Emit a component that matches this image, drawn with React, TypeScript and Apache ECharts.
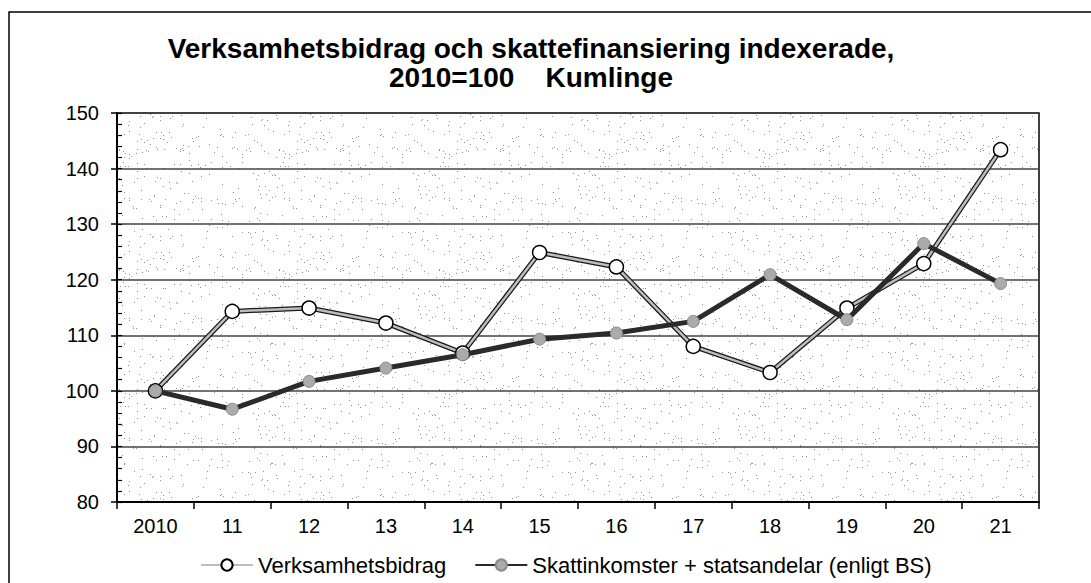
import React, { useEffect, useRef } from "react";
import * as echarts from "echarts";

const categories = ["2010", "11", "12", "13", "14", "15", "16", "17", "18", "19", "20", "21"];
const verksamhetsbidrag = [100, 114.3, 114.9, 112.2, 106.8, 124.9, 122.3, 108.0, 103.3, 114.9, 122.9, 143.4];
const skattefinansiering = [100, 96.7, 101.7, 104.1, 106.5, 109.3, 110.4, 112.5, 120.9, 112.8, 126.5, 119.3];
const seriesNames = ["Verksamhetsbidrag", "Skattinkomster + statsandelar (enligt BS)"];
const titleLines = ["Verksamhetsbidrag och skattefinansiering indexerade,", "2010=100    Kumlinge"];
const yMin = 80;
const yMax = 150;
const yStep = 10;

const FONT = "'Liberation Sans', Arial, sans-serif";

function makeStipple(): string {
  const c = document.createElement("canvas");
  const w = 160, h = 120;
  c.width = w; c.height = h;
  const ctx = c.getContext("2d");
  if (!ctx) return "";
  ctx.fillStyle = "#ffffff";
  ctx.fillRect(0, 0, w, h);
  ctx.fillStyle = "#8f8f8f";
  // deterministic hash-based dot texture (decoration only)
  for (let y = 0; y < h; y++) {
    for (let x = 0; x < w; x++) {
      let n = (x * 374761393 + y * 668265263) | 0;
      n = Math.imul(n ^ (n >>> 13), 1274126177);
      n = n ^ (n >>> 16);
      const f = (n >>> 0) / 4294967296;
      if (f < 0.012) ctx.fillRect(x, y, 1, 1);
    }
  }
  return c.toDataURL();
}

export default function App() {
  const ref = useRef<HTMLDivElement>(null);
  useEffect(() => {
    document.body.style.margin = "0";
    if (!ref.current) return;
    const chart = echarts.init(ref.current, undefined, { renderer: "svg" });
    const stipple = makeStipple();
    chart.setOption({
      animation: false,
      backgroundColor: "#ffffff",
      textStyle: { fontFamily: FONT },
      graphic: [
        {
          type: "rect",
          shape: { x: 9, y: 12, width: 1100, height: 600 },
          style: { fill: "none", stroke: "#000", lineWidth: 1.5 },
          silent: true,
        },
        {
          type: "text",
          x: 531,
          y: 48,
          style: {
            text: titleLines[0],
            font: `bold 28px ${FONT}`,
            fill: "#000",
            textAlign: "center",
            textVerticalAlign: "middle",
          },
        },
        {
          type: "text",
          x: 531,
          y: 77,
          style: {
            text: titleLines[1],
            font: `bold 28px ${FONT}`,
            fill: "#000",
            textAlign: "center",
            textVerticalAlign: "middle",
          },
        },
      ],
      grid: {
        left: 117,
        right: 52,
        top: 113,
        bottom: 81,
        show: true,
        borderColor: "#000",
        borderWidth: 1.5,
        backgroundColor: stipple
          ? { image: stipple, repeat: "repeat" }
          : "#f6f6f6",
      },
      legend: {
        data: seriesNames,
        left: 195,
        top: 549,
        itemWidth: 52,
        itemHeight: 14,
        itemGap: 28,
        textStyle: { fontSize: 22, color: "#000", fontFamily: FONT },
      },
      xAxis: {
        type: "category",
        data: categories,
        boundaryGap: true,
        axisLine: { lineStyle: { color: "#000", width: 2 } },
        axisTick: { show: true, length: 7, lineStyle: { color: "#000", width: 1.5 } },
        axisLabel: { color: "#000", fontSize: 20, margin: 14, fontFamily: FONT },
        splitLine: { show: false },
      },
      yAxis: [
        {
          type: "value",
          min: yMin,
          max: yMax,
          interval: yStep,
          axisLine: { show: true, lineStyle: { color: "#000", width: 2 } },
          axisTick: { show: true, length: 6, lineStyle: { color: "#000", width: 1.5 } },
          axisLabel: { color: "#000", fontSize: 20, margin: 18, fontFamily: FONT },
          splitLine: { show: true, lineStyle: { color: "#444", width: 1.5 } },
        },
        {
          type: "value",
          position: "left",
          min: yMin,
          max: yMax,
          interval: 2,
          axisLine: { show: false },
          axisTick: { show: true, inside: true, length: 5, lineStyle: { color: "#000", width: 1.2 } },
          axisLabel: { show: false },
          splitLine: { show: false },
        },
      ],
      series: [
        {
          name: "vb-outline",
          type: "line",
          data: verksamhetsbidrag,
          showSymbol: false,
          lineStyle: { color: "#1a1a1a", width: 5 },
          z: 2,
          silent: true,
        },
        {
          name: seriesNames[0],
          type: "line",
          data: verksamhetsbidrag,
          symbol: "circle",
          symbolSize: 14,
          lineStyle: { color: "#bdbdbd", width: 2.5 },
          itemStyle: { color: "#ffffff", borderColor: "#000", borderWidth: 1.5 },
          z: 3,
        },
        {
          name: seriesNames[1],
          type: "line",
          data: skattefinansiering,
          symbol: "circle",
          symbolSize: 12,
          lineStyle: { color: "#2a2a2a", width: 5 },
          itemStyle: { color: "#ababab", borderColor: "#8a8a8a", borderWidth: 1 },
          z: 4,
        },
      ],
    });
    return () => chart.dispose();
  }, []);
  return <div ref={ref} style={{ width: 1091, height: 583 }} />;
}
